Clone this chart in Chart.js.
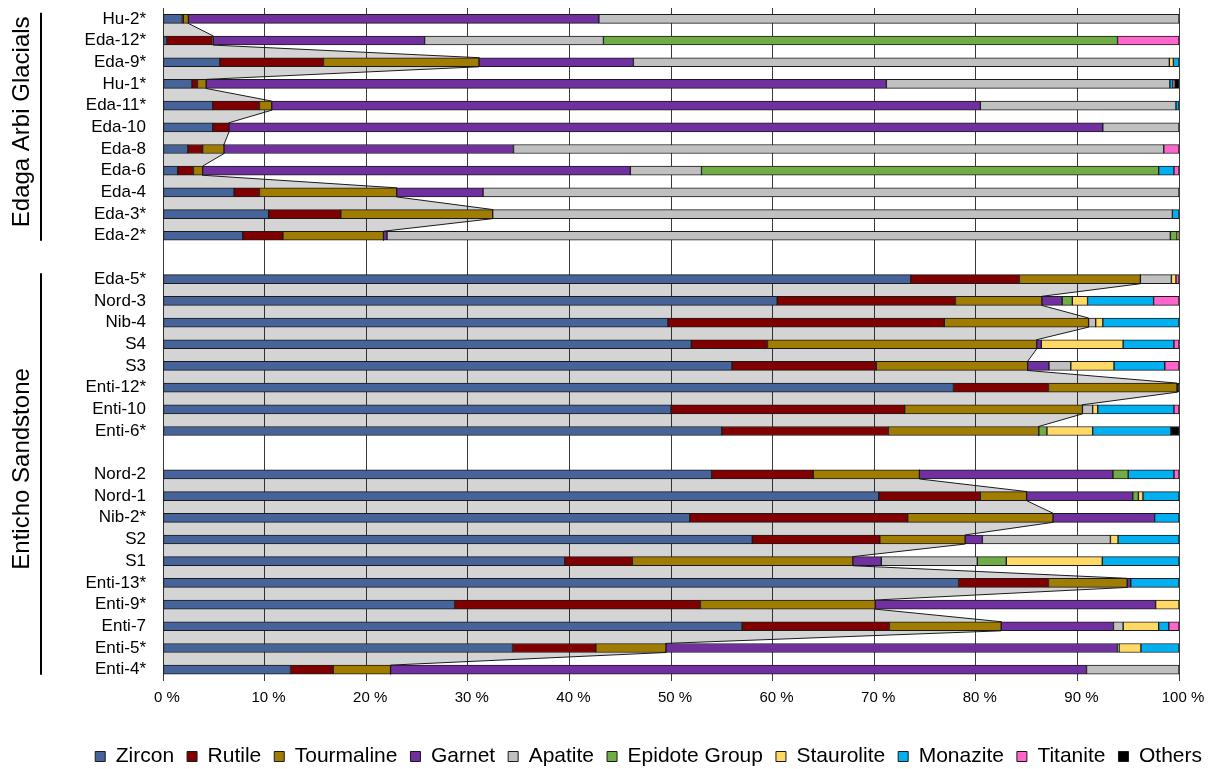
<!DOCTYPE html>
<html>
<head>
<meta charset="utf-8">
<title>Heavy mineral assemblages</title>
<script src="https://cdn.jsdelivr.net/npm/chart.js@4.4.1/dist/chart.umd.min.js"></script>
<style>
    html, body { margin: 0; padding: 0; background: #fff; }
    canvas { display: block; }
</style>
</head>
<body>
<canvas id="minerals" width="1215" height="769"></canvas>
<script>
// Sample names, top to bottom (blank entries are the gaps between groups)
const samples = ['Hu-2*', 'Eda-12*', 'Eda-9*', 'Hu-1*', 'Eda-11*', 'Eda-10', 'Eda-8', 'Eda-6', 'Eda-4', 'Eda-3*', 'Eda-2*', '',
    'Eda-5*', 'Nord-3', 'Nib-4', 'S4', 'S3', 'Enti-12*', 'Enti-10', 'Enti-6*', '',
    'Nord-2', 'Nord-1', 'Nib-2*', 'S2', 'S1', 'Enti-13*', 'Enti-9*', 'Enti-7', 'Enti-5*', 'Enti-4*'];

// Percentages
const zircon = [1.9, 0.35, 5.6, 2.85, 4.9, 4.9, 2.45, 1.45, 7.0, 10.4, 7.85, null, 73.6, 60.45, 49.7, 52.0, 56.0, 77.8, 50.0, 55.0, null, 54.0, 70.45, 51.85, 58.0, 39.55, 78.3, 28.7, 57.0, 34.4, 12.55];
const rutile = [0.1, 4.5, 10.2, 0.55, 4.6, 1.6, 1.45, 1.55, 2.5, 7.1, 3.95, null, 10.7, 17.55, 27.2, 7.5, 14.2, 9.35, 23.0, 16.4, null, 10.0, 10.0, 21.45, 12.55, 6.65, 8.85, 24.2, 14.5, 8.2, 4.2];
const tourmaline = [0.5, 0.1, 15.3, 0.85, 1.2, 0, 2.1, 0.9, 13.5, 14.95, 9.9, null, 11.9, 8.5, 14.2, 26.5, 14.9, 12.65, 17.5, 14.8, null, 10.45, 4.55, 14.3, 8.4, 21.7, 7.75, 17.2, 11.0, 6.9, 5.65];
const garnet = [40.4, 20.8, 15.2, 66.95, 69.75, 86.0, 28.5, 42.1, 8.5, 0, 0.35, null, 0, 2.0, 0, 0.45, 2.1, 0, 0, 0, null, 19.05, 10.45, 10.0, 1.7, 2.8, 0.35, 27.6, 11.05, 44.45, 68.5];
const apatite = [57.1, 17.6, 52.75, 27.9, 19.25, 7.5, 64.0, 7.0, 68.5, 66.9, 77.1, null, 3.05, 0, 0.7, 0, 2.15, 0, 1.0, 0, null, 0, 0, 0, 12.6, 9.45, 0, 0, 0.95, 0, 9.1];
const epidote = [0, 50.6, 0, 0, 0, 0, 0, 45.0, 0, 0, 0.65, null, 0, 1.0, 0, 0, 0, 0, 0, 0.8, null, 1.5, 0.55, 0, 0, 2.85, 0, 0, 0, 0.15, 0];
const staurolite = [0, 0, 0.4, 0, 0, 0, 0, 0, 0, 0, 0.2, null, 0.45, 1.5, 0.7, 8.05, 4.25, 0, 0.5, 4.5, null, 0, 0.45, 0, 0.75, 9.45, 0, 2.3, 3.5, 2.15, 0];
const monazite = [0, 0, 0.55, 0.3, 0.3, 0, 0, 1.5, 0, 0.65, 0, null, 0, 6.5, 7.5, 5.0, 5.0, 0, 7.5, 7.7, null, 4.5, 3.55, 2.4, 6.0, 7.55, 4.75, 0, 1.0, 3.75, 0];
const titanite = [0, 6.05, 0, 0.2, 0, 0, 1.5, 0.5, 0, 0, 0, null, 0.3, 2.5, 0, 0.5, 1.4, 0, 0.5, 0, null, 0.5, 0, 0, 0, 0, 0, 0, 1.0, 0, 0];
const others = [0, 0, 0, 0.4, 0, 0, 0, 0, 0, 0, 0, null, 0, 0, 0, 0, 0, 0.2, 0, 0.8, null, 0, 0, 0, 0, 0, 0, 0, 0, 0, 0];

const mineralNames = ['Zircon', 'Rutile', 'Tourmaline', 'Garnet', 'Apatite', 'Epidote Group', 'Staurolite', 'Monazite', 'Titanite', 'Others'];
const mineralValues = [zircon, rutile, tourmaline, garnet, apatite, epidote, staurolite, monazite, titanite, others];
const mineralColors = ['#46639a', '#800000', '#a07c00', '#7030a0', '#c0c0c0', '#70ad47', '#ffd966', '#00b0f0', '#ff66cc', '#000000'];

// Group brackets on the left (first and last row of each group)
const groupNames = ['Edaga Arbi Glacials', 'Enticho Sandstone'];
const groupFirst = [0, 12];
const groupLast = [10, 30];

const xTicks = [0, 10, 20, 30, 40, 50, 60, 70, 80, 90, 100];

const FONT = "Arial, 'Liberation Sans', sans-serif";
const BAR_HALF = 0.21; // half bar thickness, in rows

// Bars: one row per sample on a numeric row axis
const datasets = mineralNames.map((name, i) => ({
    type: 'bar',
    label: name,
    data: mineralValues[i]
        .map((v, row) => ({ x: v, y: row }))
        .filter(p => p.x !== null),
    backgroundColor: mineralColors[i],
    borderColor: '#1a1a1a',
    borderWidth: 1,
    borderSkipped: false,
    barThickness: 9,
    order: 0
}));

// Grey band joining the Zr+Rt+Tur totals of neighbouring bars
let band = [];
samples.forEach((s, i) => {
    if (zircon[i] === null) {
        if (band.length) datasets.push(makeBand(band));
        band = [];
        return;
    }
    const ztr = zircon[i] + rutile[i] + tourmaline[i];
    band.push({ x: ztr, y: i - BAR_HALF }, { x: ztr, y: i + BAR_HALF });
});
if (band.length) datasets.push(makeBand(band));

function makeBand(points) {
    return {
        type: 'line',
        label: 'ztr',
        data: points,
        indexAxis: 'y',
        fill: 'origin',
        backgroundColor: 'rgba(0, 0, 0, 0.17)',
        borderColor: '#1a1a1a',
        borderWidth: 1,
        pointRadius: 0,
        tension: 0,
        order: 1
    };
}

const groupLabels = {
    id: 'groupLabels',
    afterDraw(chart) {
        const ctx = chart.ctx;
        const yScale = chart.scales.y;
        ctx.save();
        groupNames.forEach((name, k) => {
            const top = yScale.getPixelForValue(groupFirst[k]) - 6;
            const bottom = yScale.getPixelForValue(groupLast[k]) + 5;
            ctx.strokeStyle = '#000';
            ctx.lineWidth = 2;
            ctx.beginPath();
            ctx.moveTo(41, top);
            ctx.lineTo(41, bottom);
            ctx.stroke();

            ctx.save();
            ctx.translate(22, (top + bottom) / 2 - 5);
            ctx.rotate(-Math.PI / 2);
            ctx.fillStyle = '#000';
            ctx.font = '24px ' + FONT;
            ctx.textAlign = 'center';
            ctx.textBaseline = 'middle';
            ctx.fillText(name, 0, 0);
            ctx.restore();
        });
        ctx.restore();
    }
};

const ctx = document.getElementById('minerals').getContext('2d');
const chart = new Chart(ctx, {
    type: 'bar',
    data: {
        datasets: datasets
    },
    options: {
        indexAxis: 'y',
        responsive: false,
        animation: false,
        layout: {
            padding: { left: 0, right: 0, top: 8, bottom: -8 }
        },
        scales: {
            x: {
                type: 'linear',
                stacked: true,
                min: 0,
                max: 100,
                afterBuildTicks: (scale) => { scale.ticks = xTicks.map(v => ({ value: v })); },
                afterFit: (scale) => { scale.height = 52.5; },
                grid: { color: '#3a3a3a', lineWidth: 1, drawTicks: false },
                border: { display: false },
                ticks: {
                    padding: 8,
                    labelOffset: 4,
                    color: '#000',
                    font: { family: FONT, size: 15 },
                    callback: (v) => v + ' %'
                }
            },
            y: {
                type: 'linear',
                stacked: true,
                offset: false,
                reverse: true,
                min: -0.5,
                max: samples.length - 0.5,
                afterBuildTicks: (scale) => { scale.ticks = samples.map((s, i) => ({ value: i })); },
                afterFit: (scale) => {
                    scale.width = 163;
                    scale.paddingTop = 0;
                    scale.paddingBottom = 0;
                },
                grid: { display: false, drawTicks: false, offset: false },
                border: { display: false },
                ticks: {
                    autoSkip: false,
                    padding: 17,
                    color: '#000',
                    font: { family: FONT, size: 17 },
                    callback: (v) => samples[v]
                }
            },
            ySpace: {
                type: 'linear',
                position: 'right',
                offset: false,
                afterFit: (scale) => { scale.width = 36; },
                grid: { display: false, drawTicks: false, offset: false },
                border: { display: false },
                ticks: { display: false }
            }
        },
        plugins: {
            tooltip: { enabled: false },
            legend: {
                position: 'bottom',
                align: 'end',
                labels: {
                    boxWidth: 10,
                    boxHeight: 10,
                    padding: 13,
                    color: '#000',
                    font: { family: FONT, size: 21 },
                    filter: (item) => item.datasetIndex < mineralNames.length
                }
            }
        }
    },
    plugins: [groupLabels]
});
</script>
</body>
</html>
